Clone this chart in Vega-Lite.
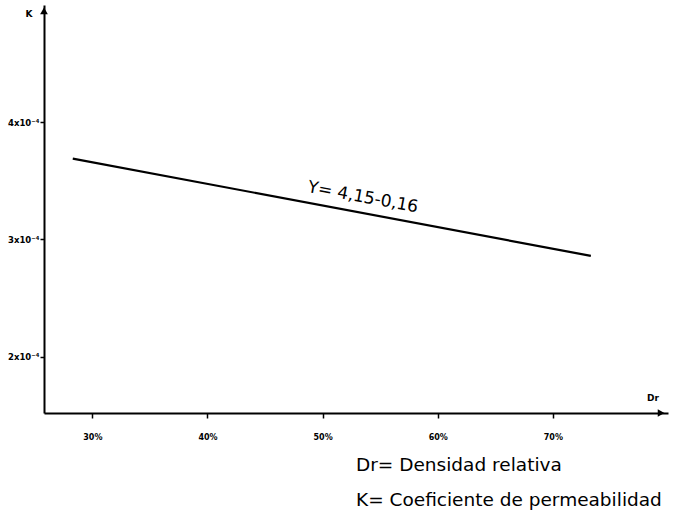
{
  "$schema": "https://vega.github.io/schema/vega-lite/v6.json",
  "width": 624,
  "height": 408,
  "autosize": {"type": "none"},
  "padding": {"left": 44, "top": 5, "right": 14, "bottom": 101},
  "background": "white",
  "config": {"view": {"stroke": null}, "font": "DejaVu Sans"},
  "datasets": {
    "line": [
      {"Dr": 28.3, "K": 3.69},
      {"Dr": 73.3, "K": 2.86}
    ],
    "eq": [
      {"Dr": 53.5, "K": 3.36, "text": "Y= 4,15-0,16"}
    ],
    "legend": [
      {"Dr": 52.9, "K": 1.08, "text": "Dr= Densidad relativa"},
      {"Dr": 52.9, "K": 0.78, "text": "K= Coeficiente de permeabilidad"}
    ],
    "axisnames": [
      {"Dr": 78.7, "K": 1.65, "text": "Dr"},
      {"Dr": 24.5, "K": 4.92, "text": "K"}
    ],
    "arrows": [
      {"Dr": 79.4, "K": 1.52, "shape": "triangle-right"},
      {"Dr": 25.8, "K": 4.95, "shape": "triangle-up"}
    ]
  },
  "layer": [
    {
      "data": {"name": "line"},
      "mark": {"type": "line", "color": "black", "strokeWidth": 2.2},
      "encoding": {
        "x": {
          "field": "Dr", "type": "quantitative",
          "scale": {"domain": [25.8, 80], "nice": false, "zero": false},
          "axis": {
            "title": null, "values": [30, 40, 50, 60, 70],
            "labelExpr": "datum.value + '%'",
            "grid": false, "domainColor": "black", "domainWidth": 2,
            "tickColor": "black", "tickSize": 5, "tickWidth": 1.5,
            "labelFontSize": 8, "labelFontWeight": "bold", "labelColor": "black",
            "labelPadding": 15
          }
        },
        "y": {
          "field": "K", "type": "quantitative",
          "scale": {"domain": [1.52, 5.0], "nice": false, "zero": false},
          "axis": {
            "title": null, "values": [2, 3, 4],
            "labelExpr": "datum.value + 'x10⁻⁴'",
            "grid": false, "domainColor": "black", "domainWidth": 2,
            "tickColor": "black", "tickSize": 4, "tickWidth": 1.5,
            "labelFontSize": 8.5, "labelFontWeight": "bold", "labelColor": "black",
            "labelPadding": 1
          }
        }
      }
    },
    {
      "data": {"name": "arrows"},
      "mark": {"type": "point", "filled": true, "color": "black", "size": 60, "opacity": 1},
      "encoding": {
        "x": {"field": "Dr", "type": "quantitative"},
        "y": {"field": "K", "type": "quantitative"},
        "shape": {"field": "shape", "type": "nominal", "scale": null}
      }
    },
    {
      "data": {"name": "eq"},
      "mark": {"type": "text", "color": "black", "baseline": "middle", "align": "center", "fontSize": 17, "angle": 10.5},
      "encoding": {
        "x": {"field": "Dr", "type": "quantitative"},
        "y": {"field": "K", "type": "quantitative"},
        "text": {"field": "text"}
      }
    },
    {
      "data": {"name": "legend"},
      "mark": {"type": "text", "color": "black", "baseline": "middle", "align": "left", "fontSize": 18.5},
      "encoding": {
        "x": {"field": "Dr", "type": "quantitative"},
        "y": {"field": "K", "type": "quantitative"},
        "text": {"field": "text"}
      }
    },
    {
      "data": {"name": "axisnames"},
      "mark": {"type": "text", "color": "black", "baseline": "middle", "align": "center", "fontSize": 9, "fontWeight": "bold"},
      "encoding": {
        "x": {"field": "Dr", "type": "quantitative"},
        "y": {"field": "K", "type": "quantitative"},
        "text": {"field": "text"}
      }
    }
  ]
}
